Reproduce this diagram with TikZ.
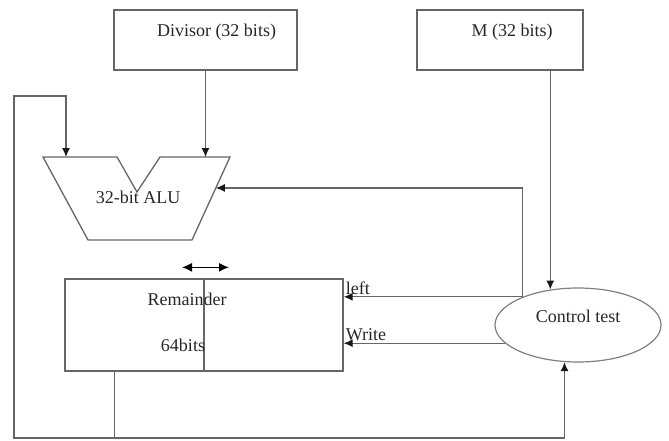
\documentclass[tikz,border=0pt]{standalone}
\usepackage{fontspec}
\setmainfont{Liberation Serif}
\usetikzlibrary{positioning,arrows.meta,calc,shapes.geometric}

\begin{document}
\begin{tikzpicture}[
    x=1pt, y=-1pt,
    font=\fontsize{18}{20}\selectfont,
    reg/.style={draw=black!60, line width=1.3pt, minimum width=#1,
                minimum height=60pt, inner sep=0pt},
    unit/.style={draw=black!60, line width=1.3pt},
    ctrlunit/.style={draw=black!50, line width=1.2pt, ellipse, minimum width=166pt,
                     minimum height=74pt, inner sep=0pt, text=black!85,
                     text height=12pt, text depth=18pt},
    wire/.style={draw=black!60, line width=1.3pt,
                 -{Latex[length=9pt, width=8pt, color=black!90]}},
    shiftarr/.style={draw=black, line width=1.4pt,
                  {Latex[length=10pt, width=9pt]}-{Latex[length=10pt, width=9pt]}},
    txt/.style={text=black!85, inner sep=0pt},
    lbl/.style={text=black!85, inner sep=1.5pt, above right},
  ]
  \useasboundingbox (0,0) rectangle (669,441);

  % ============================== Registers ===============================
  \node[reg=183pt] (divisor) at (205.5,40) {};
  \node[txt] at ($(divisor)+(11,-7.5)$) {Divisor (32 bits)};

  \node[reg=166pt] (mreg) at (500,40) {};
  \node[txt] at ($(mreg)+(12,-8)$) {M (32 bits)};

  % ============================== ALU =====================================
  \coordinate (aluTL) at (43,157);
  \coordinate (aluNL) at (117,157);
  \coordinate (aluNB) at (137,192);
  \coordinate (aluNR) at (160,157);
  \coordinate (aluTR) at (230,157);
  \coordinate (aluBR) at (192,240);
  \coordinate (aluBL) at (88,240);
  \draw[unit] (aluTL) -- (aluNL) -- (aluNB) -- (aluNR) -- (aluTR)
    -- (aluBR) -- (aluBL) -- cycle;
  \node[txt] (alutxt) at (138,197) {32-bit ALU};

  \coordinate (aluL) at (66,157);
  \coordinate (aluR) at (205.5,157);
  \coordinate (aluS) at ($(aluTR)!0.373!(aluBR)$);

  % ============================== Remainder ===============================
  \node[unit, minimum width=278pt, minimum height=92pt, inner sep=0pt]
    (rem) at (204,325) {};
  \draw[unit] (rem.north) -- (rem.south);
  \node[txt] at ($(rem)+(-17,-26)$) {Remainder};
  \node[txt] at ($(rem)+(-21,20)$) {64bits};

  \coordinate (shL) at ($(rem.north)+(-22,-11)$);
  \coordinate (shR) at ($(rem.north)+(25,-11)$);
  \draw[shiftarr] (shL) -- (shR);

  % ============================== Control =================================
  \node[ctrlunit] (ctrl) at (578,325) {Control test};

  % ============================== Wires ===================================
  \draw[wire] (divisor.south) -- (aluR);
  \draw[wire] (ctrl.128.7 |- mreg.south) -- (ctrl.128.7);

  \coordinate (jn) at (ctrl.153);
  \draw[wire] (jn) -- (jn -| rem.east) node[lbl, pos=1] {left};
  \draw[wire] (jn) |- (aluS);
  \draw[wire] (ctrl.194) -- (ctrl.194 -| rem.east) node[lbl, pos=1] {Write};

  \coordinate (remout) at ($(rem.south west)!0.18!(rem.south east)$);
  \coordinate (loopL) at (14,438);
  \coordinate (loopT) at (14,96);
  \draw[wire] (remout) |- (loopL) -- (loopT) -| (aluL);
  \draw[wire] (remout |- loopL) -| (ctrl.250);
\end{tikzpicture}
\end{document}
